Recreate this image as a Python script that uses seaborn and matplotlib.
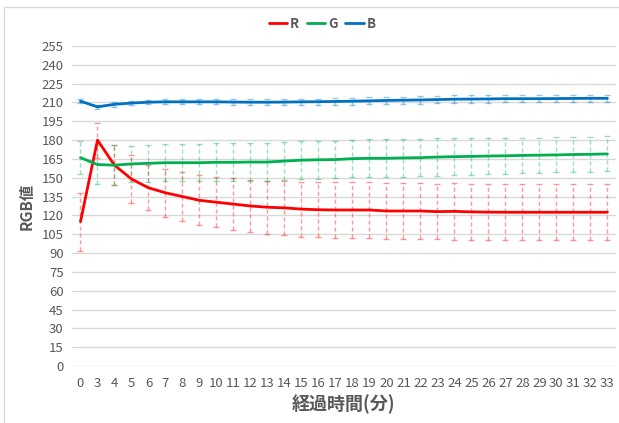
import matplotlib
matplotlib.use("Agg")
import matplotlib.pyplot as plt
import seaborn as sns
import pandas as pd
import numpy as np
from matplotlib.patches import Rectangle

minutes = [0] + list(range(3, 34))

r_mean = [115, 180, 160, 149, 142, 138, 135, 132, 130.5, 129, 127.5, 126.5, 126, 125,
          124.5, 124.3, 124.3, 124.3, 123.5, 123.5, 123.5, 123, 123.2, 122.8, 122.6,
          122.5, 122.5, 122.5, 122.5, 122.5, 122.5, 122.5]
g_mean = [166, 160.5, 160, 161, 161.5, 162, 162, 162, 162.3, 162.3, 162.5, 162.5, 163.3,
          164, 164.3, 164.5, 165.2, 165.5, 165.5, 165.8, 166, 166.5, 166.8, 167, 167.3,
          167.5, 167.8, 168, 168.2, 168.5, 168.7, 169]
b_mean = [211, 206.5, 208.5, 209.5, 210.2, 210.5, 210.5, 210.5, 210.5, 210.3, 210.2,
          210.2, 210.3, 210.5, 210.6, 210.8, 211, 211.3, 211.6, 211.8, 212, 212.3, 212.6,
          212.7, 212.8, 213, 213, 213, 213.1, 213.2, 213.3, 213.3]

r_err = [23, 14, 16, 19, 18, 19, 19.5, 20, 20, 20.5, 21, 21, 21.5, 22, 22, 22, 22, 22,
         22, 22, 22, 22, 22.5, 22.5, 22.5, 22.5, 22.5, 22.5, 22.5, 22.5, 22.5, 22.5]
g_err = [13, 15.5, 16, 14.5, 14.5, 14.5, 14.5, 14.5, 15, 15, 15, 15, 15, 15, 15, 15, 15,
         15, 15, 15, 15, 15, 14.5, 14.5, 14.5, 14.5, 14, 14, 14, 14, 14, 14]
b_err = [1.8, 1.8, 1.8, 1.8, 1.8, 2, 2, 2, 2, 2.2, 2.2, 2.3, 2.4, 2.5, 2.5, 2.6, 2.7,
         2.8, 2.8, 2.8, 2.9, 3, 3, 3, 3, 3, 3, 3, 3, 3, 3, 3]

channels = ["R", "G", "B"]
colors = {"R": "#FF0000", "G": "#00B050", "B": "#0070C0"}

pos = np.arange(len(minutes))
df = pd.DataFrame({
    "pos": np.tile(pos, 3),
    "val": r_mean + g_mean + b_mean,
    "err": r_err + g_err + b_err,
    "ch": np.repeat(channels, len(minutes)),
})

sns.set_style("white")
plt.rcParams["font.family"] = ["Noto Sans CJK JP", "DejaVu Sans"]
gray = "#595959"

fig = plt.figure(figsize=(6.19, 4.23), dpi=100)
ax = fig.add_axes([0.1163, 0.1348, 0.8787, 0.7565])

fig.patches.append(Rectangle((4 / 619, -0.1), 1.2, 1 - 7 / 423 + 0.1,
                             transform=fig.transFigure, fill=False,
                             edgecolor="#D9D9D9", linewidth=1, zorder=0))

for ch in channels:
    d = df[df["ch"] == ch]
    eb = ax.errorbar(d["pos"], d["val"], yerr=d["err"], fmt="none",
                     ecolor=colors[ch], alpha=0.4, elinewidth=1, capsize=2.5,
                     capthick=1, zorder=2)
    eb[2][0].set_linestyle((0, (3, 2)))

sns.lineplot(data=df, x="pos", y="val", hue="ch", palette=colors,
             hue_order=channels, linewidth=2.0, ax=ax, zorder=3)

ax.set_xlim(-0.5, len(minutes) - 0.5)
ax.set_ylim(0, 255)
ax.set_yticks(range(0, 256, 15))
ax.set_xticks(pos)
ax.set_xticklabels([str(m) for m in minutes])
ax.grid(axis="y", color="#D9D9D9", linewidth=1)
ax.set_axisbelow(True)
for s in ["top", "right", "left", "bottom"]:
    ax.spines[s].set_visible(False)
ax.tick_params(axis="both", length=0, labelsize=9.5, colors=gray, pad=6)
ax.tick_params(axis="x", pad=8)

ax.set_xlabel("経過時間(分)", fontsize=13, fontweight="bold", color=gray, labelpad=3)
ax.set_ylabel("RGB値", fontsize=11, fontweight="bold", color=gray, labelpad=5)

handles, labels = ax.get_legend_handles_labels()
ax.legend(handles, labels, loc="center", bbox_to_anchor=(0.46, 1.07), ncol=3,
          frameon=False, handlelength=1.4, handletextpad=0.2,
          columnspacing=0.6, labelcolor=gray, prop={"weight": "bold", "size": 9.5})

plt.savefig("out.png", dpi=100)
